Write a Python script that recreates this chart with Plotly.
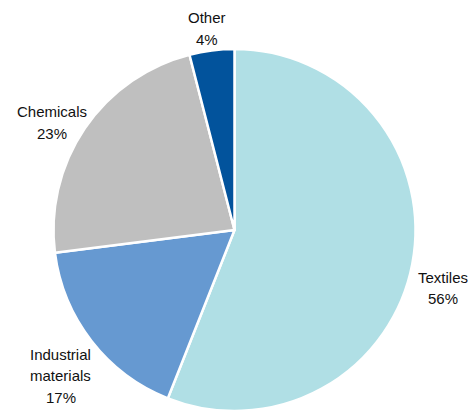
import plotly.graph_objects as go

# Share of output by segment
labels = ["Textiles", "Industrial materials", "Chemicals", "Other"]
values = [56, 17, 23, 4]
colors = ["#B0DFE5", "#6699D1", "#BFBFBF", "#02539C"]

# Label text lines (category name split over lines, then the percentage)
label_lines = [["Textiles"], ["Industrial", "materials"], ["Chemicals"], ["Other"]]
# Label anchor (centre of first line) in pixels from the top-left corner
label_pos = [(443, 277), (61, 354), (52, 112), (207, 18)]

W, H = 476, 414
LINE = 21.5

fig = go.Figure(
    go.Pie(
        labels=labels,
        values=values,
        sort=False,
        direction="clockwise",
        rotation=0,
        marker=dict(colors=colors, line=dict(color="white", width=2.5)),
        textinfo="none",
        hoverinfo="label+percent",
        showlegend=False,
        domain=dict(x=[53.5 / W, 415.5 / W], y=[2.5 / H, 365.5 / H]),
    )
)

annotations = []
for lines, v, (px, py) in zip(label_lines, values, label_pos):
    for i, t in enumerate(lines + [f"{v}%"]):
        annotations.append(
            dict(
                x=px / W,
                y=1 - (py + i * LINE) / H,
                xref="paper",
                yref="paper",
                text=t,
                showarrow=False,
                xanchor="center",
                yanchor="middle",
                font=dict(family="Liberation Sans, Arial", size=15, color="#111111"),
            )
        )

fig.update_layout(
    width=W,
    height=H,
    margin=dict(l=0, r=0, t=0, b=0),
    paper_bgcolor="white",
    plot_bgcolor="white",
    annotations=annotations,
)

fig.write_html("out.html")
